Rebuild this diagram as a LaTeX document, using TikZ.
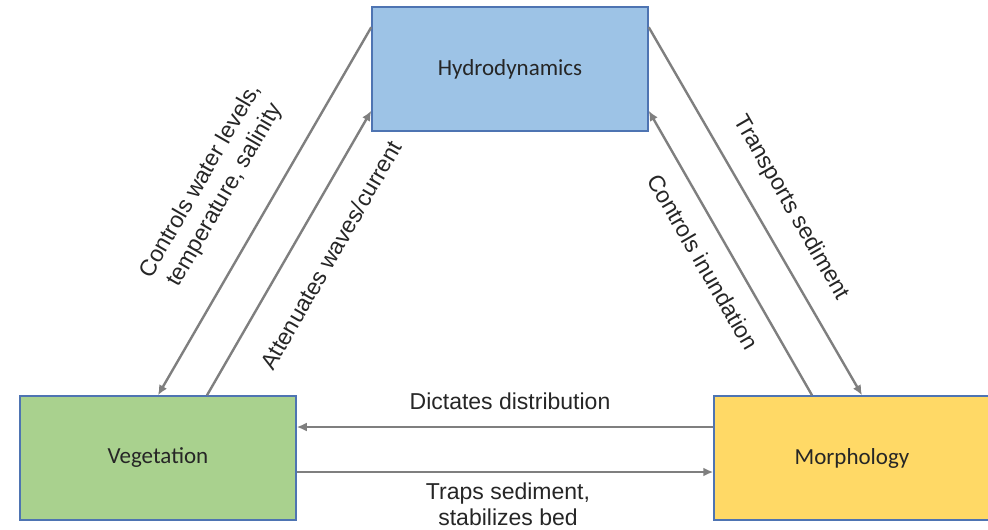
\documentclass[tikz,border=0pt]{standalone}
\usepackage{fontspec}
\setmainfont{Liberation Sans}
\newfontfamily\boxfont{Carlito}
\usepackage{tikz}
\usetikzlibrary{arrows.meta}

\definecolor{hydblue}{HTML}{9DC3E6}
\definecolor{veggreen}{HTML}{A9D18E}
\definecolor{moryellow}{HTML}{FFD966}
\definecolor{edgeblue}{HTML}{4E74B2}
\definecolor{arrgray}{HTML}{7F7F7F}
\definecolor{txtgray}{HTML}{262626}

\begin{document}
\begin{tikzpicture}[x=1pt,y=-1pt,
  box/.style={draw=edgeblue,line width=1.5pt,minimum width=276pt,minimum height=124pt,
    font=\boxfont\fontsize{23}{27}\selectfont,text=txtgray},
  lbl/.style={font=\fontsize{23}{26}\selectfont,text=txtgray,align=center,inner sep=0pt},
  arr/.style={draw=arrgray,line width=2.4pt,-{Latex[length=10pt,width=9pt]}}]
	\useasboundingbox (0,0) rectangle (988,530);
	% boxes
	\node[box,fill=hydblue] (hyd) at (510,69) {Hydrodynamics};
	\node[box,fill=veggreen] (veg) at (158,458) {Vegetation};
	\node[box,fill=moryellow] (mor) at (852,458) {Morphology};
	% connectors
	\draw[arr] ([yshift=-21pt]hyd.north west) -- (veg.north);
	\draw[arr] ([xshift=49pt]veg.north) -- ([yshift=21pt]hyd.south west);
	\draw[arr] ([yshift=-21pt]hyd.north east) -- ([xshift=10pt]mor.north);
	\draw[arr] ([xshift=-40pt]mor.north) -- ([yshift=21pt]hyd.south east);
	\draw[arr] ([yshift=31pt]mor.west) -- ([yshift=31pt]veg.east);
	\draw[arr] ([yshift=-14pt]veg.east) -- ([yshift=-14pt]mor.west);
	% labels
	\node[lbl,rotate=60,font=\fontsize{23}{28}\selectfont] (lwater) at (213,188) {Controls water levels,\\temperature, salinity};
	\node[lbl,rotate=60] (lwaves) at (331,255) {Attenuates waves/current};
	\node[lbl,rotate=-60] (lsed) at (791,208) {Transports sediment};
	\node[lbl,rotate=-60] (linund) at (703,262) {Controls inundation};
	\node[lbl] (ldist) at (510,401) {Dictates distribution};
	\node[lbl] (ltraps) at (508,504) {Traps sediment,\\stabilizes bed};
\end{tikzpicture}
\end{document}
